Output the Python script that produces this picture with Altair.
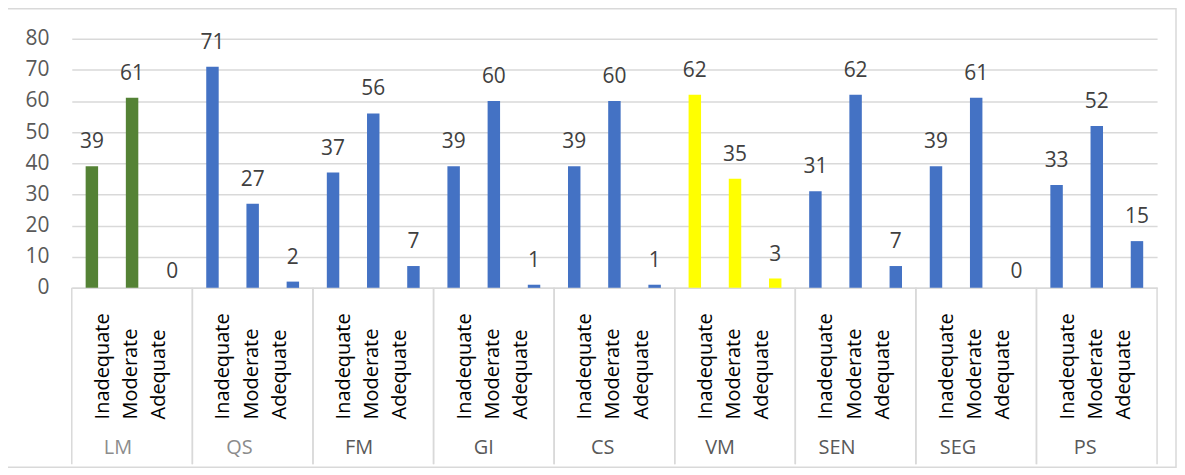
import altair as alt
import pandas as pd

groups = ["LM", "QS", "FM", "GI", "CS", "VM", "SEN", "SEG", "PS"]
levels = ["Inadequate", "Moderate", "Adequate"]
inadequate = [39, 71, 37, 39, 39, 62, 31, 39, 33]
moderate = [61, 27, 56, 60, 60, 35, 62, 61, 52]
adequate = [0, 2, 7, 1, 1, 3, 7, 0, 15]

rows = []
for g, a, b, c in zip(groups, inadequate, moderate, adequate):
    for lvl, v in zip(levels, (a, b, c)):
        rows.append({"group": g, "level": lvl, "value": v})
df = pd.DataFrame(rows)
gdf = pd.DataFrame({"group": groups})

W, H = 1089, 250
FONT = "Open Sans"
GRID = "#d9d9d9"

x_enc = alt.X(
    "group:N",
    sort=groups,
    scale=alt.Scale(domain=groups, paddingInner=0, paddingOuter=0),
    axis=alt.Axis(
        title=None, labelAngle=0, labelPadding=160, labelBaseline="middle",
        labelFontSize=20, labelFont=FONT, ticks=False, grid=False,
        domainColor=GRID, domainWidth=1.5,
        labelColor={"condition": {"test": "datum.value == 'LM' || datum.value == 'QS'",
                                  "value": "#8c8c8c"}, "value": "#595959"},
    ),
)
xo_enc = alt.XOffset(
    "level:N", sort=levels,
    scale=alt.Scale(domain=levels, paddingInner=0.69, paddingOuter=0.345),
)
y_enc = alt.Y(
    "value:Q",
    scale=alt.Scale(domain=[0, 80], nice=False),
    axis=alt.Axis(
        title=None, values=list(range(0, 81, 10)), labelFontSize=21, labelFont=FONT,
        labelColor="#595959", labelPadding=23, ticks=False, domain=False,
        gridColor=GRID, gridWidth=1.5,
    ),
)

colour_scale = alt.Scale(
    domain=groups,
    range=["#548235", "#4472C4", "#4472C4", "#4472C4", "#4472C4",
           "#FFFF00", "#4472C4", "#4472C4", "#4472C4"],
)

base = alt.Chart(df)

bars = base.mark_bar().encode(
    x=x_enc, xOffset=xo_enc, y=y_enc,
    color=alt.Color("group:N", scale=colour_scale, legend=None),
)

values = base.transform_filter(alt.datum.value > 0).mark_text(
    baseline="alphabetic", dy=-18, fontSize=21, font=FONT, color="#404040"
).encode(x=x_enc, xOffset=xo_enc, y=y_enc, text="value:Q")

zero_values = base.transform_filter(alt.datum.value == 0).mark_text(
    baseline="alphabetic", dy=-10, fontSize=21, font=FONT, color="#404040"
).encode(x=x_enc, xOffset=xo_enc, y=y_enc, text="value:Q")

cat_layers = []
for lvl, shift in zip(levels, [11, -1, -13]):
    cat_layers.append(
        base.transform_filter(alt.datum.level == lvl)
        .mark_text(angle=270, align="left", baseline="middle", dy=shift,
                   fontSize=20, font=FONT, color="#000000")
        .encode(x=x_enc, xOffset=xo_enc, y=alt.value(382), text="level:N")
    )

sep_left = alt.Chart(gdf).mark_rule(color=GRID, strokeWidth=1.5).encode(
    x=alt.X("group:N", sort=groups, bandPosition=0),
    y=alt.value(H), y2=alt.value(427),
)
sep_right = alt.Chart(gdf).mark_rule(color=GRID, strokeWidth=1.5).encode(
    x=alt.X("group:N", sort=groups, bandPosition=1),
    y=alt.value(H), y2=alt.value(427),
)

border = alt.Chart(alt.Data(values=[{"a": 1}])).mark_rect(
    fillOpacity=0, stroke=GRID, strokeWidth=1.5
).encode(
    x=alt.value(-65), x2=alt.value(1108), y=alt.value(-30), y2=alt.value(430)
)

chart = alt.layer(
    border, sep_left, sep_right, bars, values, zero_values, *cat_layers
).properties(
    width=W, height=H,
    autosize=alt.AutoSizeParams(type="none"),
    padding={"left": 64, "top": 30, "right": 20, "bottom": 182},
).configure_view(stroke=None)

chart.save("out.html", embed_options={"renderer": "svg", "actions": False})
